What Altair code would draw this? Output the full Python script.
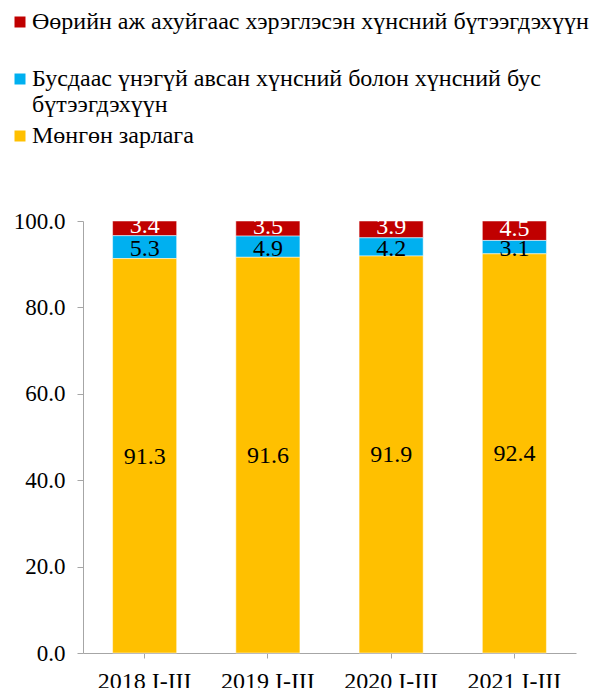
import altair as alt
import pandas as pd

periods = ["2018 I-III", "2019 I-III", "2020 I-III", "2021 I-III"]
series = [
    "Өөрийн аж ахуйгаас хэрэглэсэн хүнсний бүтээгдэхүүн",
    "Бусдаас үнэгүй авсан хүнсний болон хүнсний бус бүтээгдэхүүн",
    "Мөнгөн зарлага",
]
own_farm = [3.4, 3.5, 3.9, 4.5]
free_recv = [5.3, 4.9, 4.2, 3.1]
cash = [91.3, 91.6, 91.9, 92.4]
colors = ["#C00000", "#00B0F0", "#FFC000"]
label_colors = ["white", "black", "black"]

rows = []
for i, p in enumerate(periods):
    for k, (s, vals) in enumerate(zip(series, [own_farm, free_recv, cash])):
        rows.append({"period": p, "series": s, "value": vals[i],
                     "stackorder": 2 - k, "tcol": label_colors[k]})
df = pd.DataFrame(rows)

FONT = "Liberation Serif, DejaVu Serif, serif"
FS = 24
GREY = "#A6A6A6"

x = alt.X("period:N", sort=periods, title=None,
          scale=alt.Scale(paddingInner=0.48, paddingOuter=0.24),
          axis=alt.Axis(labelAngle=0, labelFont=FONT, labelFontSize=FS, labelColor="black",
                        domainColor=GREY, tickColor=GREY, tickSize=5,
                        labelPadding=11))

label_expr = (
    "datum.label == '" + series[1] + "' ? ['Бусдаас үнэгүй авсан хүнсний болон хүнсний бус', 'бүтээгдэхүүн'] : "
    "(datum.label == '" + series[0] + "' ? [datum.label, ''] : datum.label)"
)

bars = alt.Chart(df).mark_bar(stroke="white", strokeWidth=0.5).encode(
    x=x,
    y=alt.Y("value:Q", stack="zero", title=None,
            scale=alt.Scale(domain=[0, 100], nice=False),
            axis=alt.Axis(values=[0, 20, 40, 60, 80, 100], format=".1f", grid=False,
                          labelFont=FONT, labelFontSize=23, labelColor="black",
                          domainColor=GREY, tickColor=GREY, tickSize=6,
                          labelPadding=12)),
    color=alt.Color("series:N", scale=alt.Scale(domain=series, range=colors),
                    legend=alt.Legend(title=None, orient="none", legendX=-75, legendY=-211,
                                      padding=0,
                                      symbolType="square", symbolSize=121, symbolStrokeWidth=0,
                                      labelFont=FONT, labelFontSize=FS, labelColor="black",
                                      labelLimit=900, rowPadding=7, labelOffset=0,
                                      labelExpr=label_expr)),
    order=alt.Order("stackorder:Q", sort="ascending"),
)

base_text = alt.Chart(df).transform_stack(
    stack="value", groupby=["period"], as_=["y0", "y1"],
    sort=[alt.SortField("stackorder", order="ascending")],
).transform_calculate(
    mid="(datum.y0 + datum.y1) / 2"
)

def text_layer(name, dy):
    return base_text.transform_filter(alt.datum.series == name).mark_text(
        font=FONT, fontSize=FS, baseline="middle", dy=dy
    ).encode(
        x=alt.X("period:N", sort=periods),
        y=alt.Y("mid:Q"),
        text=alt.Text("value:Q", format=".1f"),
        color=alt.Color("tcol:N", scale=None),
    )

chart = alt.layer(
    bars,
    text_layer(series[2], 1),
    text_layer(series[1], 2),
    text_layer(series[0], -2),
).properties(
    width=493, height=432,
    padding={"left": 0, "top": 2, "right": 0, "bottom": 0},
).configure_view(stroke=None)
chart.save("out.html", embed_options={"renderer": "svg", "actions": False})
